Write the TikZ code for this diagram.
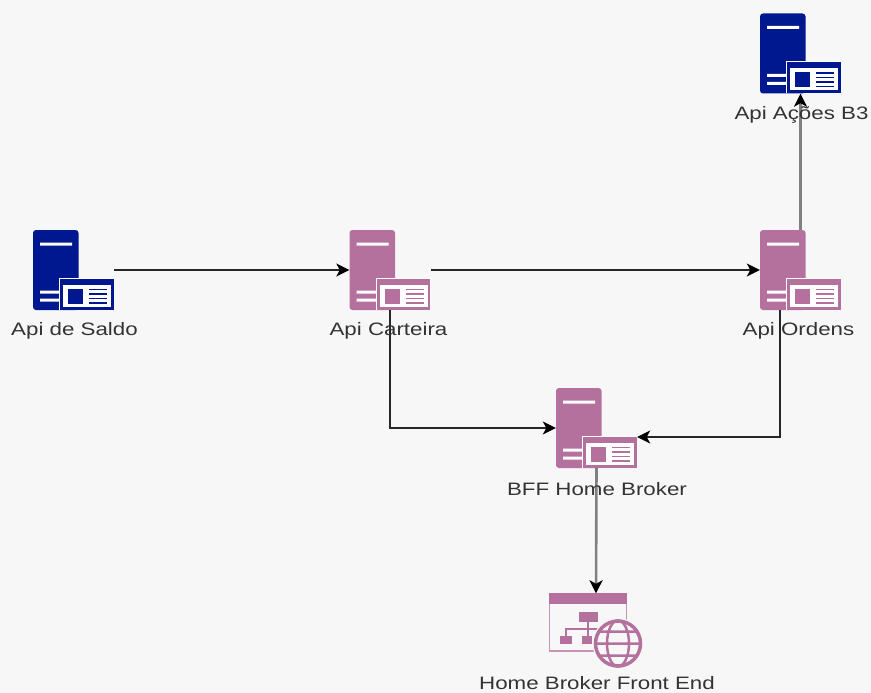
\documentclass[tikz,border=0pt]{standalone}
\usepackage{fontspec}
\setmainfont[FakeStretch=1.24]{Liberation Sans}
\usetikzlibrary{arrows.meta}
\definecolor{navyapi}{HTML}{00188F}
\definecolor{mauveapi}{HTML}{B5719E}
\definecolor{paper}{HTML}{F7F7F7}
\definecolor{labeltext}{HTML}{333333}
\newcommand{\servericon}[1]{%
	\fill[#1,rounded corners=3] (-40.5,-40) rectangle (5,40);
	\fill[white] (-33.5,-27.5) rectangle (-1.5,-24.5)
		(-33.5,20.5) rectangle (-14,23.5)
		(-33.5,28.5) rectangle (-14,31.5);
	\fill[white] (-14.5,7.5) rectangle (40.5,40);
	\fill[#1] (-13.5,9) rectangle (40,40);
	\fill[white] (-10.5,15) rectangle (37.5,37);
	\fill[#1] (-5.5,19) rectangle (9.5,34);
	\foreach \liney in {19.5,24,28.5,33}
		\draw[#1,line width=1.5] (15.5,\liney) -- (33.5,\liney);
}
\newcommand{\webicon}[1]{%
	\draw[#1!75,line width=1.5] (-46.3,-36.7) rectangle (30.3,20.3);
	\fill[#1] (-47,-37.5) rectangle (31,-26.5);
	\fill[#1] (-17,-18.5) rectangle (2,-8.5);
	\fill[#1] (-36,5.5) rectangle (-24,13.5);
	\fill[#1] (-14,5.5) rectangle (-4,13.5);
	\draw[#1,line width=2] (-8,-8.5) -- (-8,5.5) (-30,5.5) -- (-30,-1.5) -- (2,-1.5);
	\fill[paper] (22,13) circle (25.5);
	\draw[#1,line width=3.5] (22,13) circle (22.5);
	\draw[#1,line width=2.5] (22,13) ellipse (11 and 23)
		(-1,13) -- (45,13)
		(3,1) -- (41,1)
		(3,25) -- (41,25);
}
\tikzstyle{server}=[inner sep=0pt,minimum width=81pt,minimum height=80pt]
\tikzstyle{apinavy}=[server,path picture={\servericon{navyapi}}]
\tikzstyle{apimauve}=[server,path picture={\servericon{mauveapi}}]
\tikzstyle{webpage}=[inner sep=0pt,minimum width=94pt,minimum height=74pt,path picture={\webicon{mauveapi}}]
\tikzstyle{caption}=[inner sep=0pt,text=labeltext,font=\fontsize{18}{21}\selectfont]
\tikzstyle{link}=[draw=black!85,line width=1.3pt,-{Stealth[length=13pt,width=13pt,inset=3.5pt,black]}]
\tikzstyle{linkgray}=[link,draw=black!50,line width=2.6pt]

\begin{document}
\begin{tikzpicture}[x=1pt,y=-1pt]
		\fill[paper] (0,0) rectangle (871,693);
		\useasboundingbox (0,0) rectangle (871,693);

		% icons
		\node[apinavy] (saldo) at (73.5,270) {};
		\node[apimauve] (carteira) at (390,270) {};
		\node[apimauve] (ordens) at (800.5,270) {};
		\node[apinavy] (acoes) at (800.5,53.5) {};
		\node[apimauve] (bff) at (596.5,428) {};
		\node[webpage] (frontend) at (596,630.5) {};

		% free ends that are off centre
		\coordinate (ordensout) at ([xshift=-20.5pt]ordens.south);
		\coordinate (bffin) at ([yshift=-9pt]bff.east);

		% connectors
		\draw[link] (saldo.east) -- (carteira.west);
		\draw[link] (carteira.east) -- (ordens.west);
		\draw[link] (carteira.south) |- (bff.west);
		\draw[link] (ordensout) |- (bffin);
		\draw[linkgray] (ordens.north) -- (acoes.south);
		\draw[linkgray] (bff.south) -- (frontend.north);

		% texts
		\node[caption] (saldotext) at (74.5,331) {Api de Saldo};
		\node[caption] (carteiratext) at (388.5,331) {Api Carteira};
		\node[caption] (ordenstext) at (798.5,331) {Api Ordens};
		\node[caption] (acoestext) at (801.5,115) {Api Ações B3};
		\node[caption] (bfftext) at (597,489) {BFF Home Broker};
		\node[caption] (frontendtext) at (597,683.5) {Home Broker Front End};
\end{tikzpicture}
\end{document}
